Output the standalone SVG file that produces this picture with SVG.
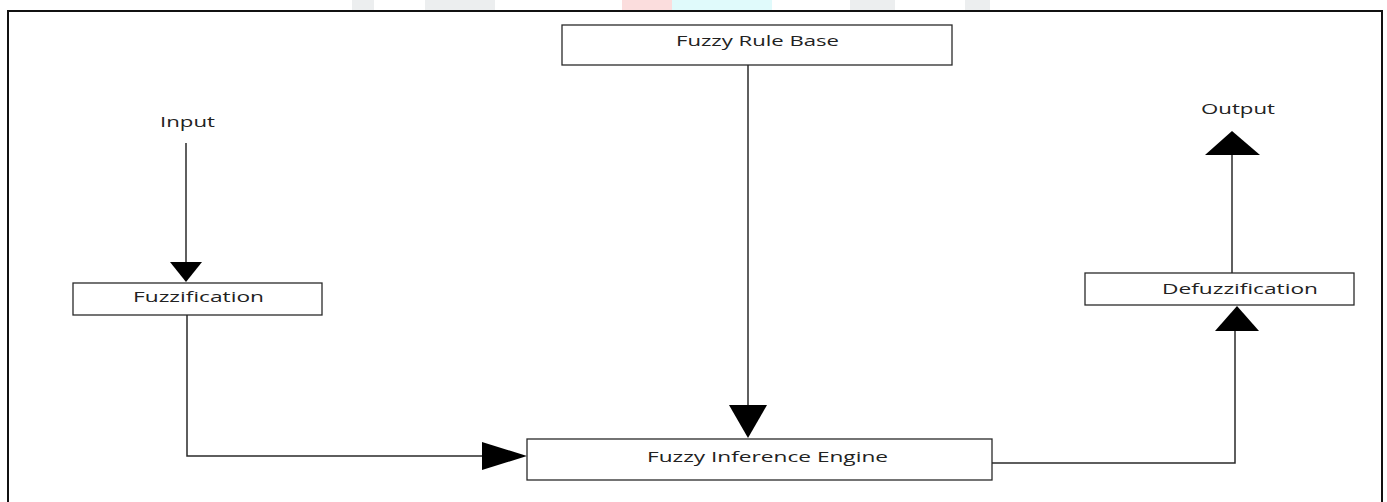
<svg xmlns="http://www.w3.org/2000/svg" width="1387" height="502" viewBox="0 0 1387 502">
  <style>
    .box { fill: #ffffff; stroke: #2a2a2a; stroke-width: 1.3; }
    .lbl { font-family: "Open Sans", "Liberation Sans", sans-serif; font-size: 15px; fill: #222222; }
    .wire { fill: none; stroke: #2a2a2a; stroke-width: 1.5; }
    .head { fill: #000000; stroke: none; }
  </style>
  <rect x="0" y="0" width="1387" height="502" fill="#ffffff"/>
  <g id="watermark" opacity="0.35">
    <rect x="352" y="0" width="22" height="10" fill="#c9cfd3"/>
    <rect x="425" y="0" width="70" height="10" fill="#c9cfd3"/>
    <rect x="622" y="0" width="50" height="10" fill="#f4a0a0"/>
    <rect x="672" y="0" width="100" height="10" fill="#a8f2f6"/>
    <rect x="850" y="0" width="45" height="10" fill="#c9cfd3"/>
    <rect x="965" y="0" width="25" height="10" fill="#c9cfd3"/>
  </g>
  <rect id="frame" x="8" y="11" width="1374" height="500" fill="none" stroke="#111111" stroke-width="2"/>

  <g id="connectors">
    <line class="wire" x1="186" y1="143" x2="186" y2="263"/>
    <polygon class="head" points="170,262 202,262 186,282"/>
    <polyline class="wire" points="187,315 187,456 483,456"/>
    <polygon class="head" points="482,442 482,470 527,456"/>
    <line class="wire" x1="748" y1="65" x2="748" y2="406"/>
    <polygon class="head" points="729,405 767,405 748,438"/>
    <polyline class="wire" points="992,463 1235,463 1235,330"/>
    <polygon class="head" points="1215,331 1259,331 1237,306"/>
    <line class="wire" x1="1232" y1="273" x2="1232" y2="154"/>
    <polygon class="head" points="1205,155 1260,155 1232,131"/>
  </g>

  <g id="input">
    <text class="lbl" x="160" y="127" textLength="55" lengthAdjust="spacingAndGlyphs">Input</text>
  </g>
  <g id="output">
    <text class="lbl" x="1201" y="114" textLength="74" lengthAdjust="spacingAndGlyphs">Output</text>
  </g>
  <g id="rule-base">
    <rect class="box" x="562" y="25" width="390" height="40"/>
    <text class="lbl" x="676" y="46" textLength="163" lengthAdjust="spacingAndGlyphs">Fuzzy Rule Base</text>
  </g>
  <g id="fuzzification">
    <rect class="box" x="73" y="283" width="249" height="32"/>
    <text class="lbl" x="133" y="302" textLength="131" lengthAdjust="spacingAndGlyphs">Fuzzification</text>
  </g>
  <g id="defuzzification">
    <rect class="box" x="1085" y="273" width="269" height="32"/>
    <text class="lbl" x="1162" y="294" textLength="156" lengthAdjust="spacingAndGlyphs">Defuzzification</text>
  </g>
  <g id="inference-engine">
    <rect class="box" x="527" y="439" width="465" height="41"/>
    <text class="lbl" x="647" y="462" textLength="241" lengthAdjust="spacingAndGlyphs">Fuzzy Inference Engine</text>
  </g>
</svg>
